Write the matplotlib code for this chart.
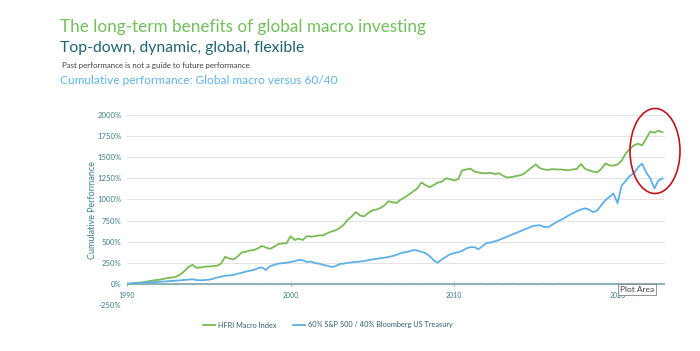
import numpy as np
import matplotlib.pyplot as plt
from matplotlib.patches import Ellipse

# Quarterly values, cumulative performance in %
start_year = 1990
macro = [
    0, 5, 10, 15,          # 1990
    20, 28, 35, 45,        # 1991
    50, 60, 70, 75,        # 1992
    85, 110, 150, 200,     # 1993
    225, 190, 195, 205,    # 1994
    205, 210, 215, 240,    # 1995
    320, 300, 290, 320,    # 1996
    370, 380, 395, 400,    # 1997
    420, 450, 430, 415,    # 1998
    440, 470, 480, 480,    # 1999
    565, 520, 535, 520,    # 2000
    565, 560, 565, 575,    # 2001
    575, 600, 620, 635,    # 2002
    660, 700, 760, 800,    # 2003
    850, 810, 800, 840,    # 2004
    870, 880, 900, 930,    # 2005
    980, 965, 960, 1000,   # 2006
    1025, 1060, 1095, 1130,  # 2007
    1200, 1170, 1145, 1170,  # 2008
    1200, 1210, 1250, 1240,  # 2009
    1225, 1240, 1345, 1355,  # 2010
    1365, 1330, 1320, 1310,  # 2011
    1310, 1315, 1300, 1310,  # 2012
    1280, 1260, 1265, 1275,  # 2013
    1285, 1300, 1340, 1380,  # 2014
    1415, 1370, 1355, 1350,  # 2015
    1360, 1355, 1355, 1350,  # 2016
    1345, 1355, 1360, 1420,  # 2017
    1365, 1345, 1330, 1320,  # 2018
    1360, 1425, 1405, 1400,  # 2019
    1415, 1460, 1545, 1600,  # 2020
    1640, 1660, 1640, 1720,  # 2021
    1805, 1790, 1815, 1795,  # 2022
]
balanced = [
    0, 3, 5, 10,
    15, 18, 20, 22,
    25, 28, 30, 33,
    38, 42, 45, 50,
    55, 45, 42, 45,
    50, 60, 75, 85,
    95, 100, 105, 120,
    130, 145, 155, 165,
    185, 195, 165, 210,
    225, 240, 245, 250,
    260, 270, 285, 280,
    260, 265, 245, 240,
    225, 215, 200, 210,
    235, 240, 250, 255,
    260, 265, 270, 280,
    290, 295, 305, 310,
    320, 330, 345, 365,
    375, 385, 400, 395,
    380, 365, 330, 280,
    250, 290, 320, 350,
    365, 375, 390, 420,
    435, 435, 410, 450,
    485, 490, 505, 520,
    540, 560, 580, 600,
    620, 640, 660, 680,
    690, 695, 675, 670,
    700, 730, 755, 780,
    810, 835, 860, 880,
    895, 880, 850, 870,
    930, 990, 1030, 1070,
    955, 1165, 1220, 1280,
    1310, 1380, 1425, 1320,
    1250, 1130, 1225, 1250,
]
years = start_year + np.arange(len(macro)) / 4
labels = ['HFRI Macro Index', '60% S&P 500 / 40% Bloomberg US Treasury']
yticks = np.arange(-250, 2001, 250)

green = '#7aba56'
blue = '#5eb0e5'
teal = '#3d7f86'

plt.rcParams['font.family'] = ['Lato', 'DejaVu Sans']

fig = plt.figure(figsize=(7, 3.51), dpi=100)

# Kopfzeilen
fig.text(60/700, 1 - 32/351, 'The long-term benefits of global macro investing',
         color='#72bf5c', fontsize=12.3)
fig.text(60/700, 1 - 52/351, 'Top-down, dynamic, global, flexible',
         color='#1f6470', fontsize=11.3)
fig.text(62/700, 1 - 68/351, 'Past performance is not a guide to future performance',
         color='#404040', fontsize=5.7)
fig.text(60/700, 1 - 84/351, 'Cumulative performance: Global macro versus 60/40',
         color='#5fb4e8', fontsize=8.6)

ax = fig.add_axes([127/700, 1 - 305/351, 538/700, 190/351])
ax.plot(years, macro, color=green, lw=1.3, label=labels[0])
ax.plot(years, balanced, color=blue, lw=1.3, label=labels[1])

ax.set_xlim(1990, 2022.9)
ax.set_ylim(-250, 2000)
ax.set_yticks(yticks)
ax.set_yticklabels([f'{v}%' for v in yticks])
ax.grid(axis='y', color='#e4e4e4', lw=0.8)
ax.set_axisbelow(True)
for s in ax.spines.values():
    s.set_visible(False)
ax.axhline(0, color='#8fb3b8', lw=1.5, zorder=1)

ax.set_xticks([1990, 2000, 2010, 2020])
ax.set_xticks(np.arange(1990, 2023), minor=True)
ax.tick_params(axis='x', which='both', direction='inout', length=3, color='#8fb3b8',
               labelsize=5, labelcolor=teal, pad=4)
ax.tick_params(axis='x', which='minor', length=2)
ax.tick_params(axis='y', length=0, labelsize=5.6, labelcolor=teal, pad=4)
# x-Achse liegt auf 0%
ax.xaxis.set_ticks_position('bottom')
ax.spines['bottom'].set_position(('data', 0))
ax.set_ylabel('Cumulative Performance', color=teal, fontsize=6.5, labelpad=0)

ax.legend(loc='center', bbox_to_anchor=(328/700, 1 - 325/351), bbox_transform=fig.transFigure,
          ncol=2, frameon=False, fontsize=5.3, labelcolor='#2f5f66',
          handlelength=1.6, handletextpad=0.5, columnspacing=2.2)

# Tooltip aus dem Screenshot
fig.text(620/700, 1 - 292/351, 'Plot Area', fontsize=6, color='#404040',
         bbox=dict(facecolor='white', edgecolor='#808080', lw=0.6, pad=1.5))

# Roter Kreis um die letzten Jahre
fig.patches.append(Ellipse((655/700, 1 - 151/351), 50/700, 85/351,
                           transform=fig.transFigure, fill=False,
                           edgecolor='#c0141c', lw=1.2))

fig.savefig('out.png', dpi=100)
